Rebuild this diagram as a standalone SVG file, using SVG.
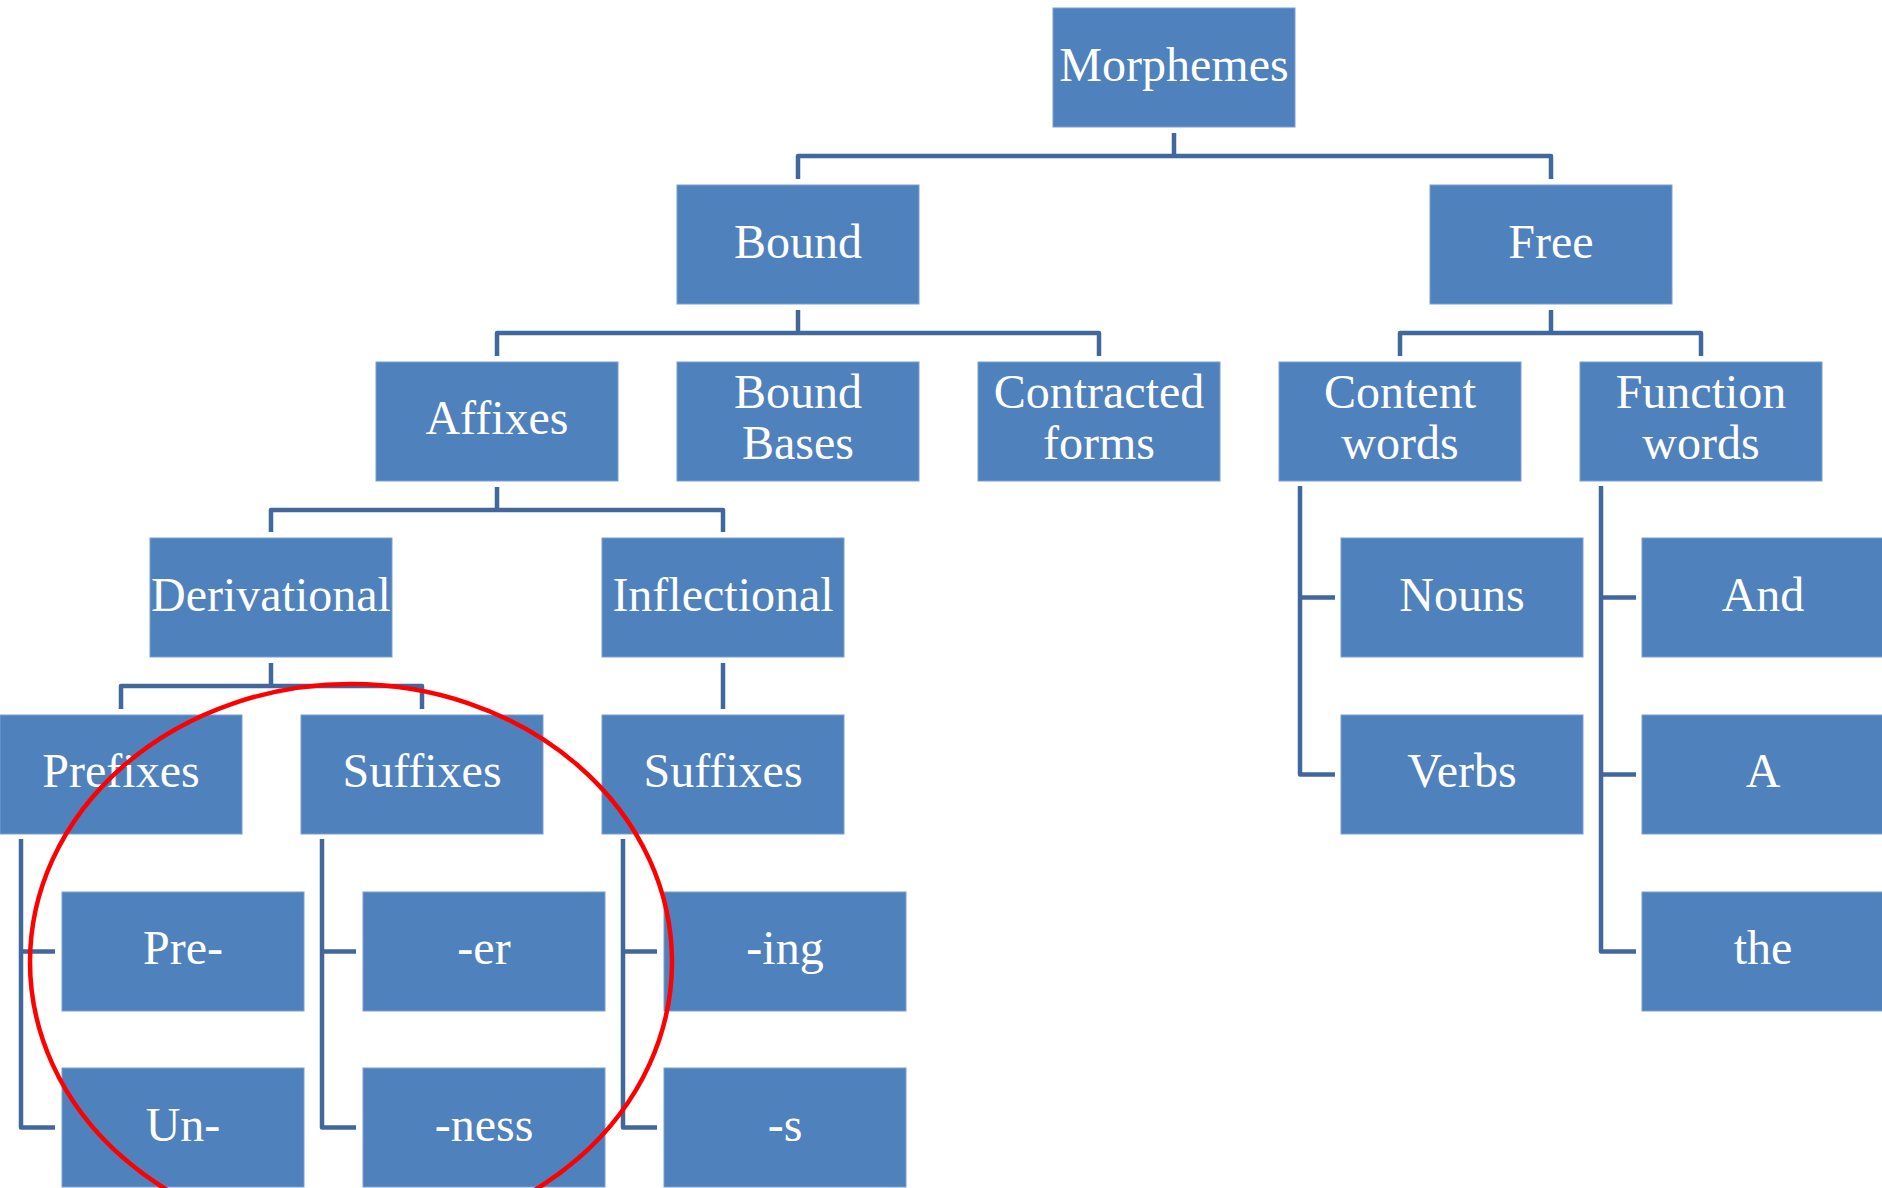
<svg xmlns="http://www.w3.org/2000/svg" width="1882" height="1188" viewBox="0 0 1882 1188">
<style>
.box{fill:#4F81BD;stroke:#7A9FD0;stroke-width:1}
.t{font-family:"Liberation Serif","Times New Roman",serif;font-size:48px;fill:#FFFFFF;text-anchor:middle}
.c{fill:none;stroke:#41689C;stroke-width:4.5;stroke-linecap:butt;stroke-linejoin:round}
.mark{fill:none;stroke:#FF0000;stroke-width:4.5}
</style>
<rect width="1882" height="1188" fill="#FFFFFF"/>
<g id="connectors">
<path class="c" d="M1174,133 V156 M798,179 V156 H1551 V179"/>
<path class="c" d="M798,310 V333 M497,356 V333 H1099 V356"/>
<path class="c" d="M1551,310 V333 M1400,356 V333 H1701 V356"/>
<path class="c" d="M497,487 V510 M271,532 V510 H723 V532"/>
<path class="c" d="M271,663 V686 M121,709 V686 H422 V709"/>
<path class="c" d="M723,663 V709"/>
<path class="c" d="M21,839 V1127.5 H55 M21,951.5 H55"/>
<path class="c" d="M322,839 V1127.5 H356 M322,951.5 H356"/>
<path class="c" d="M623,839 V1127.5 H657 M623,951.5 H657"/>
<path class="c" d="M1300,486 V774.5 H1335 M1300,597.5 H1335"/>
<path class="c" d="M1601,486 V951.5 H1636 M1601,597.5 H1636 M1601,774.5 H1636"/>
</g>
<g id="n-morphemes"><rect class="box" x="1053" y="8" width="242" height="119"/><text class="t" x="1174" y="81">Morphemes</text></g>
<g id="n-bound"><rect class="box" x="677" y="185" width="242" height="119"/><text class="t" x="798" y="258">Bound</text></g>
<g id="n-free"><rect class="box" x="1430" y="185" width="242" height="119"/><text class="t" x="1551" y="258">Free</text></g>
<g id="n-affixes"><rect class="box" x="376" y="362" width="242" height="119"/><text class="t" x="497" y="434">Affixes</text></g>
<g id="n-boundbases"><rect class="box" x="677" y="362" width="242" height="119"/><text class="t" x="798" y="408">Bound</text><text class="t" x="798" y="459">Bases</text></g>
<g id="n-contracted"><rect class="box" x="978" y="362" width="242" height="119"/><text class="t" x="1099" y="408">Contracted</text><text class="t" x="1099" y="459">forms</text></g>
<g id="n-content"><rect class="box" x="1279" y="362" width="242" height="119"/><text class="t" x="1400" y="408">Content</text><text class="t" x="1400" y="459">words</text></g>
<g id="n-function"><rect class="box" x="1580" y="362" width="242" height="119"/><text class="t" x="1701" y="408">Function</text><text class="t" x="1701" y="459">words</text></g>
<g id="n-derivational"><rect class="box" x="150" y="538" width="242" height="119"/><text class="t" x="271" y="611">Derivational</text></g>
<g id="n-inflectional"><rect class="box" x="602" y="538" width="242" height="119"/><text class="t" x="723" y="611">Inflectional</text></g>
<g id="n-nouns"><rect class="box" x="1341" y="538" width="242" height="119"/><text class="t" x="1462" y="611">Nouns</text></g>
<g id="n-and"><rect class="box" x="1642" y="538" width="242" height="119"/><text class="t" x="1763" y="611">And</text></g>
<g id="n-prefixes"><rect class="box" x="0" y="715" width="242" height="119"/><text class="t" x="121" y="787">Prefixes</text></g>
<g id="n-suffixes-d"><rect class="box" x="301" y="715" width="242" height="119"/><text class="t" x="422" y="787">Suffixes</text></g>
<g id="n-suffixes-i"><rect class="box" x="602" y="715" width="242" height="119"/><text class="t" x="723" y="787">Suffixes</text></g>
<g id="n-verbs"><rect class="box" x="1341" y="715" width="242" height="119"/><text class="t" x="1462" y="787">Verbs</text></g>
<g id="n-a"><rect class="box" x="1642" y="715" width="242" height="119"/><text class="t" x="1763" y="787">A</text></g>
<g id="n-pre"><rect class="box" x="62" y="892" width="242" height="119"/><text class="t" x="183" y="964">Pre-</text></g>
<g id="n-er"><rect class="box" x="363" y="892" width="242" height="119"/><text class="t" x="484" y="964">-er</text></g>
<g id="n-ing"><rect class="box" x="664" y="892" width="242" height="119"/><text class="t" x="785" y="964">-ing</text></g>
<g id="n-the"><rect class="box" x="1642" y="892" width="242" height="119"/><text class="t" x="1763" y="964">the</text></g>
<g id="n-un"><rect class="box" x="62" y="1068" width="242" height="119"/><text class="t" x="183" y="1141">Un-</text></g>
<g id="n-ness"><rect class="box" x="363" y="1068" width="242" height="119"/><text class="t" x="484" y="1141">-ness</text></g>
<g id="n-s"><rect class="box" x="664" y="1068" width="242" height="119"/><text class="t" x="785" y="1141">-s</text></g>
<ellipse class="mark" cx="351" cy="962" rx="321" ry="278"/>
</svg>
